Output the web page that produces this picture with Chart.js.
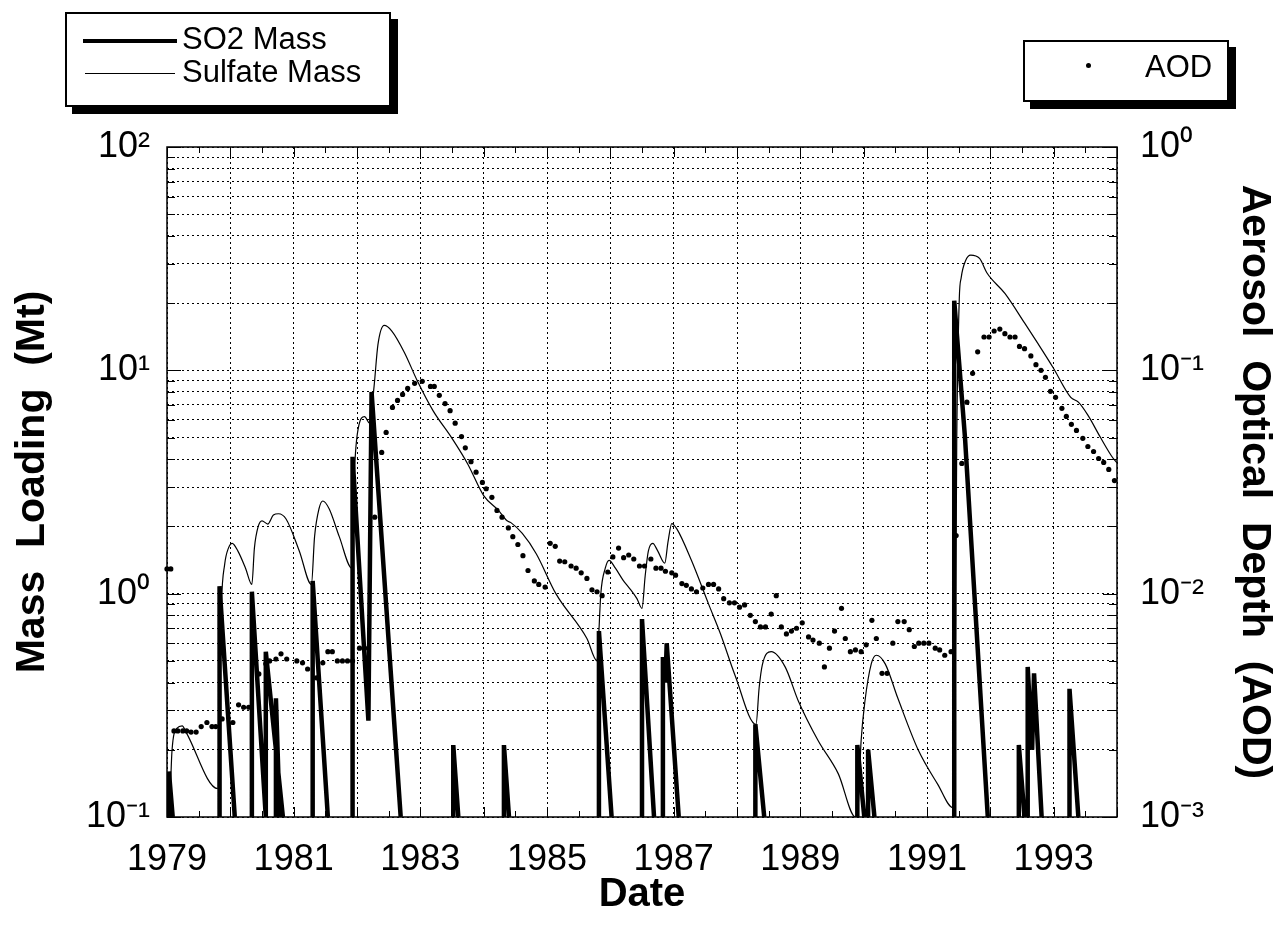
<!DOCTYPE html>
<html>
<head>
<meta charset="utf-8">
<script src="https://cdn.jsdelivr.net/npm/chart.js@4.4.1/dist/chart.umd.min.js"></script>
<style>
  html, body { margin: 0; padding: 0; background: #fff; }
  #wrap { position: relative; width: 1275px; height: 925px; }
  #chart { position: absolute; left: 0; top: 0; }
  .lg { position: absolute; box-sizing: border-box; background: #fff; border: 2px solid #000; box-shadow: 7px 7px 0 #000;
        font-family: 'Liberation Sans', Arial, Helvetica, sans-serif; font-size: 31px; color: #000; }
  .lg .txt { position: absolute; line-height: 31px; white-space: nowrap; }
  .lg .ln { position: absolute; background: #000; }
  .lg .dot { position: absolute; width: 5px; height: 5px; border-radius: 50%; background: #000; }
</style>
</head>
<body>
<div id="wrap">
  <canvas id="chart" width="1275" height="925"></canvas>
  <div class="lg" style="left:65px;top:12px;width:326px;height:95px">
    <div class="ln" style="left:16px;top:25px;width:94px;height:4px"></div>
    <div class="txt" style="left:115px;top:9px">SO2 Mass</div>
    <div class="ln" style="left:18px;top:59px;width:90px;height:1px"></div>
    <div class="txt" style="left:115px;top:42px">Sulfate Mass</div>
  </div>
  <div class="lg" style="left:1023px;top:40px;width:206px;height:62px">
    <div class="dot" style="left:61px;top:21px"></div>
    <div class="txt" style="left:120px;top:9px">AOD</div>
  </div>
</div>
<script>
// ── data ────────────────────────────────────────────────────────────────────

// SO2 mass (Mt): spikes, null = gap between eruptions
const so2Years = [
  1979.03, 1979.03, 1979.09, 1979.09,
  1979.83, 1979.83, 1980.07, 1980.07,
  1980.34, 1980.34, 1980.56, 1980.56,
  1980.56, 1980.56, 1980.83, 1980.83,
  1980.72, 1980.72, 1980.78, 1980.78,
  1981.30, 1981.30, 1981.54, 1981.54,
  1981.93, 1981.93, 1982.18, 1982.23, 1982.69, 1982.69,
  1983.52, 1983.52, 1983.60, 1983.60,
  1984.32, 1984.32, 1984.40, 1984.40,
  1985.82, 1985.82, 1986.02, 1986.02,
  1986.50, 1986.50, 1986.69, 1986.69,
  1986.83, 1986.83, 1986.87, 1986.89, 1987.08, 1987.08,
  1988.29, 1988.29, 1988.43, 1988.43,
  1989.90, 1989.90, 1990.01, 1990.01,
  1990.07, 1990.07, 1990.17, 1990.17,
  1991.43, 1991.43, 1991.60, 1991.96, 1991.96,
  1992.45, 1992.45, 1992.54, 1992.54,
  1992.59, 1992.59, 1992.66, 1992.69, 1992.81, 1992.81,
  1993.25, 1993.25, 1993.39
];
const so2Mass = [
  0.1, 0.16, 0.1, null,
  0.1, 1.08, 0.1, null,
  0.1, 1.02, 0.1, null,
  0.1, 0.55, 0.1, null,
  0.1, 0.34, 0.1, null,
  0.1, 1.14, 0.1, null,
  0.1, 4.1, 0.27, 8.0, 0.1, null,
  0.1, 0.21, 0.1, null,
  0.1, 0.21, 0.1, null,
  0.1, 0.68, 0.1, null,
  0.1, 0.77, 0.1, null,
  0.1, 0.52, 0.4, 0.6, 0.1, null,
  0.1, 0.26, 0.1, null,
  0.1, 0.21, 0.1, null,
  0.1, 0.2, 0.1, null,
  0.1, 20.5, 5.0, 0.1, null,
  0.1, 0.21, 0.1, null,
  0.1, 0.47, 0.2, 0.44, 0.1, null,
  0.1, 0.375, 0.1
];

// Sulfate mass (Mt)
const sulfateYears = [
  1979.04, 1979.08, 1979.16, 1979.24, 1979.30, 1979.80,
  1979.86, 1979.91, 1979.97, 1980.03, 1980.12, 1980.24, 1980.34,
  1980.38, 1980.44, 1980.50, 1980.59, 1980.68, 1980.76, 1980.88, 1981.09, 1981.28,
  1981.33, 1981.40, 1981.46, 1981.56, 1981.72, 1981.92,
  1981.96, 1982.02, 1982.12, 1982.20, 1982.27, 1982.33, 1982.43, 1982.55, 1982.75, 1982.95,
  1983.20, 1983.50, 1983.75, 1984.00, 1984.24, 1984.37, 1984.43, 1984.61, 1984.83, 1985.14,
  1985.63, 1985.79,
  1985.81, 1985.85, 1985.92, 1985.98, 1986.08, 1986.20, 1986.30, 1986.42, 1986.50,
  1986.55, 1986.60, 1986.67, 1986.75, 1986.86, 1986.91, 1986.97, 1987.05, 1987.28, 1987.55,
  1987.74, 1987.97, 1988.30,
  1988.35, 1988.40, 1988.54, 1988.76, 1988.97, 1989.28, 1989.60, 1989.87,
  1989.90, 1989.96, 1990.02, 1990.12, 1990.20, 1990.34, 1990.54, 1990.86, 1991.17, 1991.41,
  1991.43, 1991.47, 1991.51, 1991.54, 1991.61, 1991.69, 1991.83, 1991.95, 1992.23, 1992.54,
  1992.75, 1992.99, 1993.27, 1993.39, 1993.54, 1993.74, 1993.93, 1994.00
];
const sulfateMass = [
  0.1, 0.2, 0.25, 0.256, 0.24, 0.134,
  0.9, 1.35, 1.6, 1.68, 1.55, 1.3, 1.1,
  1.6, 2.0, 2.12, 2.05, 2.25, 2.28, 2.16, 1.55, 1.1,
  1.8, 2.4, 2.6, 2.4, 1.8, 1.3,
  3.5, 5.5, 6.2, 5.8, 8.5, 13, 15.9, 15.0, 12.0, 9.0,
  6.6, 4.96, 3.8, 2.75, 2.35, 2.12, 2.08, 1.86, 1.51, 1.0,
  0.63, 0.5,
  0.6, 1.0, 1.3, 1.41, 1.3, 1.15, 1.06, 0.95, 0.86,
  1.2, 1.55, 1.68, 1.55, 1.37, 1.7, 2.06, 1.95, 1.41, 0.9,
  0.66, 0.43, 0.26,
  0.38, 0.48, 0.55, 0.47, 0.33, 0.22, 0.156, 0.1,
  0.1, 0.22, 0.33, 0.485, 0.53, 0.485, 0.34, 0.2, 0.14, 0.11,
  0.11, 5, 21, 26, 31, 32.8, 31.7, 27.2, 22.1, 16.3,
  13.2, 10.3, 7.57, 7.2, 6.3, 5.0, 4.07, 3.85
];

// Aerosol optical depth (right axis)
const aodYears = [
  1979.00, 1979.06, 1979.11, 1979.17, 1979.25, 1979.31, 1979.38, 1979.46, 1979.54, 1979.63,
  1979.71, 1979.77, 1979.87, 1980.04, 1980.13, 1980.21, 1980.29, 1980.45, 1980.56, 1980.62,
  1980.72, 1980.80, 1980.89, 1981.05, 1981.14, 1981.22, 1981.36, 1981.46, 1981.54, 1981.61,
  1981.69, 1981.77, 1981.85, 1981.93, 1982.04, 1982.12, 1982.28, 1982.39, 1982.46, 1982.56,
  1982.64, 1982.72, 1982.80, 1982.91, 1983.03, 1983.16, 1983.22, 1983.30, 1983.39, 1983.47,
  1983.55, 1983.65, 1983.71, 1983.80, 1983.88, 1983.98, 1984.04, 1984.13, 1984.21, 1984.29,
  1984.39, 1984.46, 1984.54, 1984.62, 1984.70, 1984.80, 1984.87, 1984.97, 1985.05, 1985.13,
  1985.20, 1985.28, 1985.38, 1985.46, 1985.54, 1985.63, 1985.71, 1985.79, 1985.87, 1985.96,
  1986.04, 1986.13, 1986.21, 1986.29, 1986.37, 1986.46, 1986.54, 1986.64, 1986.72, 1986.80,
  1986.87, 1986.97, 1987.03, 1987.13, 1987.20, 1987.28, 1987.36, 1987.46, 1987.55, 1987.63,
  1987.71, 1987.79, 1987.88, 1987.96, 1988.04, 1988.12, 1988.21, 1988.29, 1988.37, 1988.45,
  1988.54, 1988.62, 1988.70, 1988.78, 1988.86, 1988.94, 1989.03, 1989.13, 1989.20, 1989.30,
  1989.38, 1989.46, 1989.54, 1989.65, 1989.71, 1989.79, 1989.87, 1989.96, 1990.04, 1990.13,
  1990.20, 1990.29, 1990.37, 1990.46, 1990.54, 1990.64, 1990.72, 1990.80, 1990.87, 1990.95,
  1991.03, 1991.13, 1991.20, 1991.28, 1991.38, 1991.46, 1991.55, 1991.63, 1991.72, 1991.80,
  1991.90, 1991.98, 1992.06, 1992.15, 1992.23, 1992.31, 1992.39, 1992.46, 1992.54, 1992.64,
  1992.72, 1992.80, 1992.87, 1992.95, 1993.03, 1993.13, 1993.20, 1993.28, 1993.36, 1993.46,
  1993.54, 1993.63, 1993.71, 1993.79, 1993.87, 1993.96
];
const aodValues = [
  0.0129, 0.0129, 0.00243, 0.00243, 0.00243, 0.00243, 0.0024, 0.0024, 0.00254, 0.00265,
  0.00254, 0.00254, 0.00275, 0.00265, 0.00318, 0.0031, 0.0031, 0.00437, 0.00485, 0.005,
  0.0051, 0.00538, 0.0051, 0.005, 0.0049, 0.0046, 0.0042, 0.0049, 0.0055, 0.0055,
  0.005, 0.005, 0.005, 0.005, 0.0057, 0.0057, 0.022, 0.0429, 0.0527, 0.0682,
  0.0733, 0.078, 0.083, 0.0875, 0.0893, 0.0847, 0.0847, 0.0773, 0.071, 0.066,
  0.058, 0.0505, 0.045, 0.039, 0.035, 0.0315, 0.0295, 0.027, 0.0236, 0.022,
  0.0197, 0.018, 0.0166, 0.0148, 0.0127, 0.0114, 0.011, 0.0107, 0.0168, 0.0163,
  0.014, 0.0139, 0.0133, 0.013, 0.0124, 0.0117, 0.0104, 0.0102, 0.0098, 0.0125,
  0.0146, 0.016, 0.0145, 0.0149, 0.0143, 0.0133, 0.0133, 0.0143, 0.013, 0.013,
  0.0126, 0.0124, 0.0121, 0.0111, 0.0109, 0.0105, 0.0102, 0.0106, 0.011, 0.011,
  0.0105, 0.0095, 0.0091, 0.0091, 0.0087, 0.0089, 0.008, 0.0075, 0.0071, 0.0071,
  0.0081, 0.0098, 0.0071, 0.0066, 0.0068, 0.007, 0.0074, 0.0064, 0.0062, 0.006,
  0.0047, 0.0057, 0.0068, 0.0086, 0.0063, 0.0055, 0.0056, 0.0055, 0.0059, 0.0076,
  0.0063, 0.0044, 0.0044, 0.006, 0.0075, 0.0075, 0.0069, 0.0058, 0.006, 0.006,
  0.006, 0.0057, 0.0056, 0.0053, 0.0055, 0.0182, 0.0383, 0.072, 0.097, 0.121,
  0.141, 0.141, 0.15, 0.153, 0.146, 0.141, 0.141, 0.128, 0.125, 0.116,
  0.106, 0.100, 0.093, 0.0805, 0.0757, 0.0676, 0.0622, 0.0573, 0.0538, 0.0496,
  0.0456, 0.0433, 0.0403, 0.0387, 0.036, 0.0321
];

// axis ticks
const yearTicks = [1979, 1980, 1981, 1982, 1983, 1984, 1985, 1986, 1987, 1988, 1989, 1990, 1991, 1992, 1993, 1994];
const massDecades = [0.1, 1, 10];
const aodDecades = [0.001, 0.01, 0.1, 1];
const mantissas = [1, 2, 3, 4, 5, 6, 7, 8, 9];

// ── helpers ────────────────────────────────────────────────────────────────

const FONT = "'Liberation Sans', Arial, Helvetica, sans-serif";
const TICK_FONT = "'Liberation Sans Narrow', 'Arial Narrow', 'Liberation Sans', sans-serif";
const SUP = { '-': '\u207B', '0': '\u2070', '1': '\u00B9', '2': '\u00B2', '3': '\u00B3' };

function pow10Label(v) {
  const e = Math.round(Math.log10(v));
  if (Math.abs(v / Math.pow(10, e) - 1) > 1e-6) return '';
  return '10' + String(e).split('').map(c => SUP[c]).join('');
}

function logTicks(decades, top) {
  const out = [];
  decades.forEach(d => mantissas.forEach(m => out.push(+(d * m).toPrecision(3))));
  out.push(top);
  return out;
}

const pts = (xs, ys) => xs.map((x, i) => ({ x, y: ys[i] }));

const massTickValues = logTicks(massDecades, 100);

// frame + inward tick marks like the original plot
const framePlugin = {
  id: 'frame',
  afterDatasetsDraw(chart) {
    const { ctx, chartArea: a, scales } = chart;
    ctx.save();
    ctx.strokeStyle = '#000';
    ctx.lineWidth = 1;
    ctx.beginPath();
    scales.y.ticks.forEach(t => {
      const py = Math.round(scales.y.getPixelForValue(t.value)) + 0.5;
      const len = pow10Label(t.value) ? 14 : 8;
      ctx.moveTo(a.left, py); ctx.lineTo(a.left + len, py);
      ctx.moveTo(a.right - len, py); ctx.lineTo(a.right, py);
    });
    yearTicks.forEach(yr => {
      [yr, yr + 0.5].forEach((v, k) => {
        if (v > 1994) return;
        const px = Math.round(scales.x.getPixelForValue(v)) + 0.5;
        const len = k === 0 ? 10 : 6;
        ctx.moveTo(px, a.bottom); ctx.lineTo(px, a.bottom - len);
        ctx.moveTo(px, a.top); ctx.lineTo(px, a.top + len);
      });
    });
    ctx.stroke();
    ctx.lineWidth = 1.5;
    ctx.strokeRect(a.left, a.top, a.width, a.height);
    ctx.restore();
  }
};

// ── chart ──────────────────────────────────────────────────────────────────

new Chart(document.getElementById('chart').getContext('2d'), {
  type: 'line',
  data: {
    datasets: [
      { label: 'SO2 Mass', data: pts(so2Years, so2Mass), yAxisID: 'y', borderColor: '#000', borderWidth: 4.5,
        pointRadius: 0, spanGaps: false, tension: 0, borderJoinStyle: 'bevel', borderCapStyle: 'butt' },
      { label: 'Sulfate Mass', data: pts(sulfateYears, sulfateMass), yAxisID: 'y', borderColor: '#000', borderWidth: 1.2,
        pointRadius: 0, cubicInterpolationMode: 'monotone' },
      { type: 'scatter', label: 'AOD', data: pts(aodYears, aodValues), yAxisID: 'y2', showLine: false,
        backgroundColor: '#000', borderColor: '#000', pointRadius: 2.6, borderWidth: 0, clip: false }
    ]
  },
  options: {
    responsive: false,
    animation: false,
    devicePixelRatio: 1,
    layout: { padding: { top: 147, left: 0, right: 0, bottom: 0 } },
    plugins: { legend: { display: false }, tooltip: { enabled: false } },
    scales: {
      x: {
        type: 'linear', min: 1979, max: 1994,
        afterFit: s => { s.height = 108; },
        afterBuildTicks: s => { s.ticks = yearTicks.map(v => ({ value: v })); },
        ticks: { autoSkip: false, maxRotation: 0, padding: 21, color: '#000', font: { family: TICK_FONT, size: 36 },
                 callback: v => (v % 2 === 1 && v < 1994) ? String(v) : '' },
        grid: { color: '#000', lineWidth: 1, drawTicks: false },
        border: { display: false, dash: [2, 3] },
        title: { display: true, text: 'Date', color: '#000', font: { family: FONT, size: 40, weight: 'bold', lineHeight: 1 },
                 padding: { top: 0, bottom: 10 } }
      },
      y: {
        type: 'logarithmic', position: 'left', min: 0.1, max: 100,
        afterFit: s => { s.width = 167; },
        afterBuildTicks: s => { s.ticks = massTickValues.map(v => ({ value: v })); },
        ticks: { autoSkip: false, padding: 17, color: '#000', font: { family: TICK_FONT, size: 36 }, callback: v => pow10Label(v) },
        grid: { color: '#000', lineWidth: 1, drawTicks: false },
        border: { display: false, dash: [2, 3] },
        title: { display: true, text: 'Mass  Loading  (Mt)', color: '#000', font: { family: FONT, size: 41, weight: 'bold', lineHeight: 1 },
                 padding: { top: 12, bottom: 0 } }
      },
      y2: {
        type: 'logarithmic', position: 'right', min: 0.001, max: 1,
        afterFit: s => { s.width = 158; },
        afterBuildTicks: s => { s.ticks = aodDecades.map(v => ({ value: v })); },
        ticks: { autoSkip: false, padding: 23, color: '#000', font: { family: TICK_FONT, size: 36 }, callback: v => pow10Label(v) },
        grid: { display: false, drawTicks: false },
        border: { display: false },
        title: { display: true, text: 'Aerosol  Optical  Depth  (AOD)', color: '#000', font: { family: FONT, size: 41, weight: 'bold', lineHeight: 1 },
                 padding: { top: 0, bottom: 0 } }
      }
    }
  },
  plugins: [framePlugin]
});
</script>
</body>
</html>
